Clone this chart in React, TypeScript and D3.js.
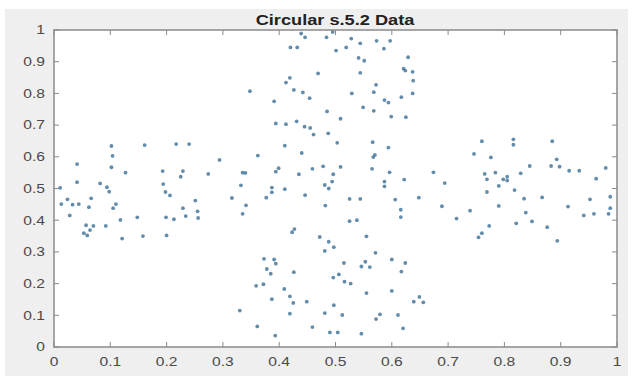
import React from "react";
import * as d3 from "d3";

const titleText = "Circular s.5.2 Data";
const xTicks = [0, 0.1, 0.2, 0.3, 0.4, 0.5, 0.6, 0.7, 0.8, 0.9, 1];
const yTicks = [0, 0.1, 0.2, 0.3, 0.4, 0.5, 0.6, 0.7, 0.8, 0.9, 1];

const leftArm: [number, number][] = [
  [0.102, 0.634], [0.161, 0.637], [0.217, 0.64], [0.24, 0.64], [0.104, 0.603], [0.041, 0.577],
  [0.102, 0.567], [0.294, 0.59], [0.127, 0.55], [0.193, 0.555], [0.229, 0.555], [0.225, 0.537],
  [0.274, 0.546], [0.335, 0.55], [0.34, 0.549], [0.041, 0.52], [0.082, 0.516], [0.094, 0.504],
  [0.098, 0.49], [0.011, 0.502], [0.194, 0.514], [0.332, 0.51], [0.198, 0.489], [0.206, 0.478],
  [0.316, 0.47], [0.024, 0.466], [0.066, 0.469], [0.013, 0.451], [0.033, 0.449], [0.044, 0.451],
  [0.11, 0.451], [0.105, 0.438], [0.062, 0.441], [0.251, 0.462], [0.341, 0.447], [0.229, 0.438],
  [0.255, 0.428], [0.028, 0.415], [0.118, 0.401], [0.148, 0.409], [0.199, 0.409], [0.213, 0.403],
  [0.234, 0.413], [0.256, 0.407], [0.335, 0.42], [0.057, 0.384], [0.07, 0.382], [0.092, 0.382],
  [0.053, 0.359], [0.059, 0.352], [0.064, 0.369], [0.121, 0.342], [0.158, 0.35], [0.2, 0.352],
];

const topArm: [number, number][] = [
  [0.439, 0.989], [0.446, 0.977], [0.495, 0.994], [0.484, 0.977], [0.528, 0.973], [0.544, 0.958],
  [0.573, 0.966], [0.597, 0.966], [0.42, 0.945], [0.432, 0.945], [0.501, 0.935], [0.519, 0.945],
  [0.586, 0.941], [0.541, 0.912], [0.551, 0.903], [0.629, 0.914], [0.621, 0.878], [0.624, 0.872],
  [0.637, 0.868], [0.469, 0.863], [0.544, 0.865], [0.419, 0.849], [0.412, 0.834], [0.638, 0.84],
  [0.572, 0.827], [0.348, 0.807], [0.426, 0.811], [0.442, 0.803], [0.529, 0.8], [0.568, 0.804],
  [0.637, 0.8], [0.454, 0.785], [0.617, 0.788], [0.391, 0.775], [0.587, 0.779], [0.594, 0.771],
  [0.549, 0.756], [0.568, 0.745], [0.485, 0.743], [0.509, 0.72], [0.599, 0.727], [0.625, 0.725],
  [0.394, 0.705], [0.412, 0.703], [0.431, 0.712], [0.445, 0.695], [0.455, 0.691], [0.461, 0.67],
  [0.487, 0.674],
];

const centre: [number, number][] = [
  [0.41, 0.635], [0.503, 0.644], [0.566, 0.646], [0.594, 0.629], [0.362, 0.604], [0.44, 0.612],
  [0.57, 0.606], [0.567, 0.599], [0.399, 0.564], [0.394, 0.553], [0.459, 0.562], [0.478, 0.57],
  [0.509, 0.568], [0.565, 0.562], [0.435, 0.545], [0.496, 0.545], [0.596, 0.551], [0.674, 0.551],
  [0.494, 0.522], [0.481, 0.511], [0.488, 0.5], [0.587, 0.522], [0.587, 0.507], [0.622, 0.528],
  [0.694, 0.517], [0.387, 0.503], [0.387, 0.488], [0.41, 0.498], [0.377, 0.471], [0.446, 0.479],
  [0.525, 0.467], [0.544, 0.467], [0.606, 0.465], [0.648, 0.471], [0.482, 0.446], [0.616, 0.433],
  [0.689, 0.444], [0.616, 0.41], [0.525, 0.397], [0.538, 0.4], [0.427, 0.372], [0.423, 0.362],
  [0.472, 0.347], [0.555, 0.349],
];

const bottomArm: [number, number][] = [
  [0.488, 0.332], [0.497, 0.315], [0.481, 0.303], [0.571, 0.297], [0.373, 0.278], [0.391, 0.276],
  [0.394, 0.263], [0.515, 0.265], [0.553, 0.269], [0.546, 0.254], [0.561, 0.252], [0.6, 0.276],
  [0.624, 0.265], [0.378, 0.246], [0.385, 0.231], [0.426, 0.236], [0.617, 0.238], [0.506, 0.229],
  [0.496, 0.219], [0.516, 0.206], [0.527, 0.2], [0.359, 0.193], [0.372, 0.198], [0.409, 0.183],
  [0.555, 0.17], [0.6, 0.177], [0.419, 0.16], [0.387, 0.151], [0.649, 0.158], [0.639, 0.143],
  [0.656, 0.141], [0.425, 0.139], [0.449, 0.143], [0.497, 0.132], [0.481, 0.107], [0.512, 0.101],
  [0.419, 0.105], [0.579, 0.103], [0.572, 0.088], [0.611, 0.101], [0.361, 0.065], [0.459, 0.063],
  [0.62, 0.059], [0.49, 0.046], [0.504, 0.046], [0.546, 0.042], [0.393, 0.036], [0.33, 0.115],
];

const rightArm: [number, number][] = [
  [0.76, 0.649], [0.816, 0.655], [0.816, 0.638], [0.885, 0.649], [0.746, 0.609], [0.776, 0.598],
  [0.893, 0.592], [0.845, 0.571], [0.883, 0.571], [0.898, 0.569], [0.98, 0.565], [0.765, 0.546],
  [0.769, 0.529], [0.784, 0.55], [0.829, 0.548], [0.915, 0.556], [0.933, 0.556], [0.798, 0.529],
  [0.805, 0.525], [0.805, 0.537], [0.963, 0.531], [0.79, 0.508], [0.818, 0.495], [0.769, 0.489],
  [0.835, 0.468], [0.867, 0.472], [0.952, 0.466], [0.988, 0.474], [0.739, 0.43], [0.79, 0.445],
  [0.913, 0.443], [0.988, 0.438], [0.838, 0.424], [0.941, 0.415], [0.959, 0.42], [0.985, 0.42],
  [0.715, 0.405], [0.849, 0.396], [0.821, 0.39], [0.773, 0.382], [0.876, 0.378], [0.76, 0.359],
  [0.754, 0.346], [0.894, 0.335],
];

const W = 636;
const H = 376;
const left = 54;
const right = 617;
const top = 30;
const bottom = 347;
const stretch = 1.3;

export default function App() {
  const x = d3.scaleLinear().domain([0, 1]).range([left, right]);
  const y = d3.scaleLinear().domain([0, 1]).range([bottom, top]);
  const points = [...leftArm, ...topArm, ...centre, ...bottomArm, ...rightArm];
  const fmt = (v: number) => d3.format("~g")(v);
  const axisColor = "#8a8a8a";
  const labelColor = "#4a4a4a";
  const tickLen = 5;
  return (
    <svg
      width={W}
      height={H}
      style={{ position: "absolute", left: 0, top: 0, background: "#ffffff" }}
      fontFamily="Liberation Sans, Arial, sans-serif"
    >
      <rect x={5} y={9} width={623} height={367} fill="#efefef" />
      <rect x={left} y={top} width={right - left} height={bottom - top} fill="#ffffff" />
      {points.map(([px, py], i) => (
        <circle key={i} cx={x(px)} cy={y(py)} r={1.9} fill="#3c6f96" opacity={0.8} />
      ))}
      <rect
        x={left}
        y={top}
        width={right - left}
        height={bottom - top}
        fill="none"
        stroke={axisColor}
        strokeWidth={1.5}
      />
      {xTicks.map((t) => (
        <g key={"x" + t}>
          <line x1={x(t)} x2={x(t)} y1={bottom} y2={bottom - tickLen} stroke={axisColor} />
          <line x1={x(t)} x2={x(t)} y1={top} y2={top + tickLen} stroke={axisColor} />
          <text
            transform={`translate(${x(t)},366) scale(${stretch},1)`}
            textAnchor="middle"
            fontSize={12}
            fill={labelColor}
          >
            {fmt(t)}
          </text>
        </g>
      ))}
      {yTicks.map((t) => (
        <g key={"y" + t}>
          <line x1={left} x2={left + tickLen} y1={y(t)} y2={y(t)} stroke={axisColor} />
          <line x1={right} x2={right - tickLen} y1={y(t)} y2={y(t)} stroke={axisColor} />
          <text
            transform={`translate(45,${y(t) + 4.3}) scale(${stretch},1)`}
            textAnchor="end"
            fontSize={12}
            fill={labelColor}
          >
            {fmt(t)}
          </text>
        </g>
      ))}
      <text
        transform={`translate(${(253 + 417) / 2},25) scale(${stretch},1)`}
        textAnchor="middle"
        fontSize={14}
        fontWeight="bold"
        fill="#222"
      >
        {titleText}
      </text>
    </svg>
  );
}
